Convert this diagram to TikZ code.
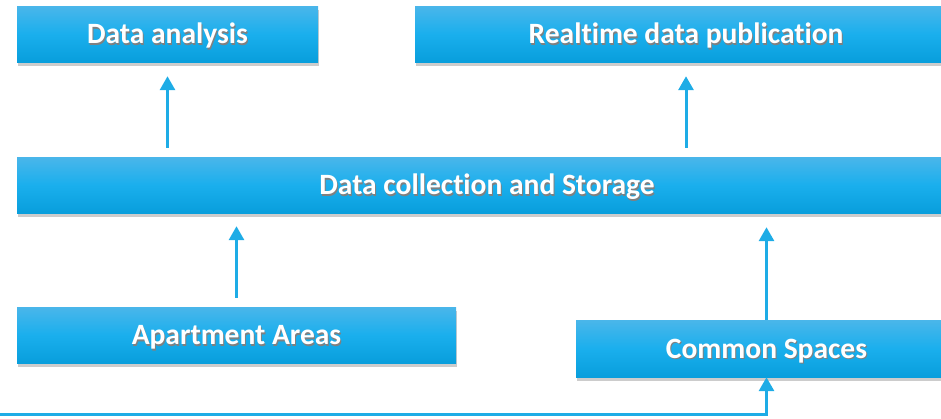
\documentclass[tikz,border=0pt]{standalone}
\usepackage{fontspec}
\setmainfont{Carlito}[Ligatures=NoCommon]
\usetikzlibrary{arrows.meta,shadows}
\definecolor{boxtop}{RGB}{74,182,234}
\definecolor{boxmid}{RGB}{26,175,237}
\definecolor{boxbot}{RGB}{8,158,220}
\definecolor{arrowblue}{RGB}{30,172,230}
\newcommand{\shadowtext}[1]{\rlap{\color{black!50}\hspace{1pt}\raisebox{-1.5pt}{#1}}#1}
\tikzset{
    BOX1/.style ={rectangle, minimum height = 56pt, inner sep=0pt, text=white,
        text height=19pt, text depth=0pt,
        font=\fontsize{29.5}{34}\selectfont\bfseries,
        top color=boxtop, bottom color=boxbot, middle color=boxmid,
        drop shadow={shadow xshift=1pt, shadow yshift=-4pt, opacity=0.4}},
    AR1/.style ={-{Triangle[width=15pt,length=14pt]}, line width=3pt, draw=arrowblue}
}

\begin{document}
\begin{tikzpicture}[x=1pt,y=-1pt]
        \useasboundingbox (0,0) rectangle (941,418);
        \clip (0,0) rectangle (941,418);
        \node[BOX1, minimum width=301pt] (DA) at (167.5,34) {\shadowtext{Data analysis}};
        \node[BOX1, minimum width=542pt] (RT) at (686,34) {\shadowtext{Realtime data publication}};
        \node[BOX1, minimum width=940pt] (DC) at (487,185) {\shadowtext{Data collection and Storage}};
        \node[BOX1, minimum width=439pt] (AP) at (236.5,335) {\shadowtext{Apartment Areas}};
        \node[BOX1, minimum width=381pt, minimum height=57pt] (CS) at (766.5,348.5) {\shadowtext{Common Spaces}};
        \coordinate (IN) at (0,414);
        \draw[AR1, shorten <=9pt, shorten >=14pt] (DC.north -| DA) -- (DA.south);
        \draw[AR1, shorten <=9pt, shorten >=14pt] (DC.north -| RT) -- (RT.south);
        \draw[AR1, shorten <=9pt, shorten >=13pt] (AP.north) -- (AP.north |- DC.south);
        \draw[AR1, shorten >=14pt] (CS.north) -- (CS.north |- DC.south);
        \draw[AR1] (IN) -| (CS.south);
\end{tikzpicture}
\end{document}
